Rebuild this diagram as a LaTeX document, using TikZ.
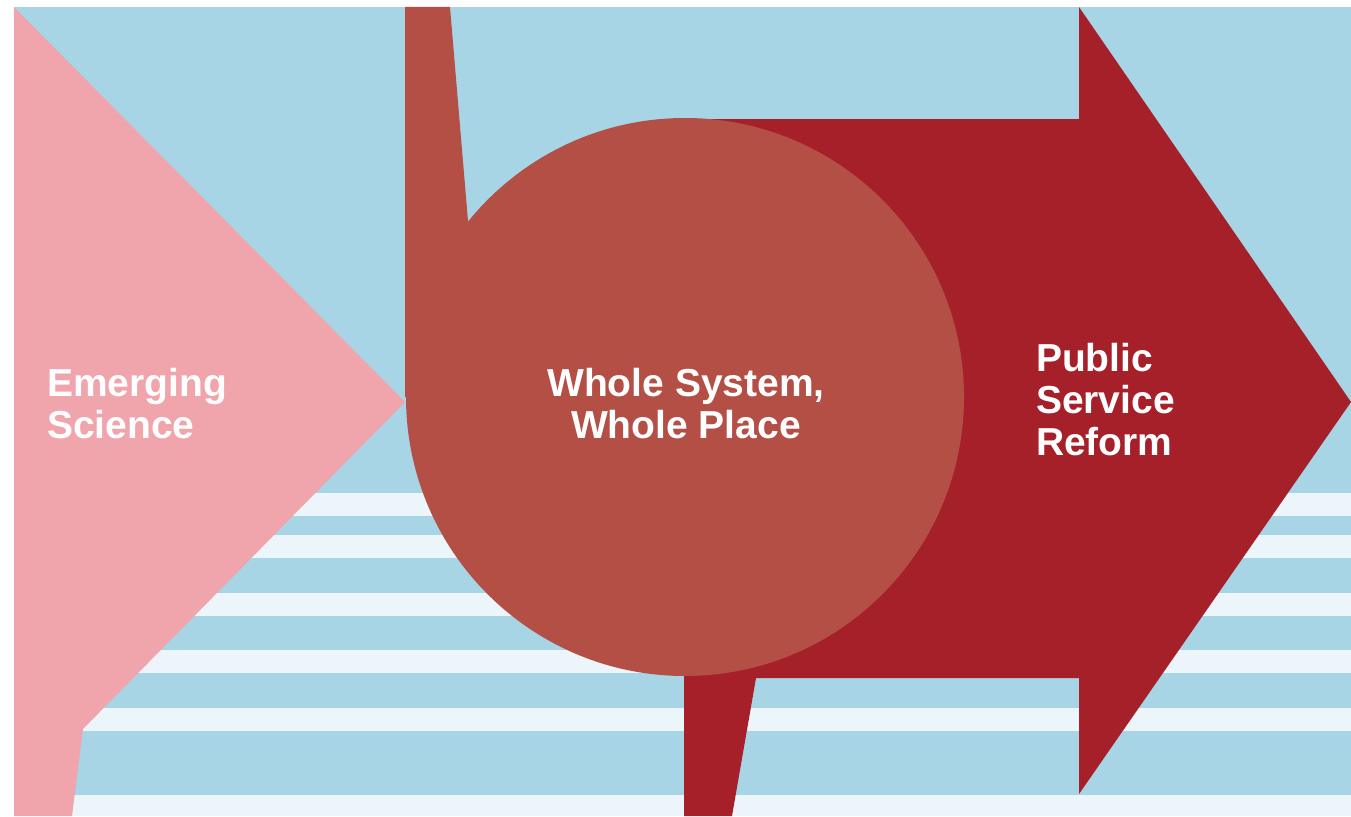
\documentclass[tikz,border=0pt]{standalone}
\definecolor{skyblue}{HTML}{A8D5E6}
\definecolor{stripe}{HTML}{EBF5FA}
\definecolor{rosepink}{HTML}{F0A4AC}
\definecolor{brick}{HTML}{B44F45}
\definecolor{crimson}{HTML}{A62029}
\usepackage{fontspec}
\setmainfont{Liberation Sans}
\usepackage{tikz}
\usetikzlibrary{positioning,calc}
\tikzset{
  plabel/.style={text=white, font=\bfseries\fontsize{39}{42}\selectfont,
    inner sep=0pt, outer sep=0pt},
  band/.style={fill=stripe, draw=none}
}

\begin{document}
\begin{tikzpicture}[x=1pt,y=-1pt]
        \useasboundingbox (0,0) rectangle (1351,816);
        % background and stripes
        \fill[skyblue] (14,7) rectangle (1351,816);
        \foreach \y/\h in {493/23,535/23,593/23,650/23,708/23,795/21}
          \fill[band] (14,\y) rectangle (1351,\y+\h);
        % left chevron
        \fill[rosepink] (14,7) -- (405,402) -- (83,729) -- (72,816) -- (14,816) -- cycle;
        % right arrow with its tail
        \fill[crimson] (675,119) -- (1079,119) -- (1079,7) -- (1351,402) -- (1079,794)
          -- (1079,678) -- (756,678) -- (732,816) -- (684,816) -- (684,400) -- (675,400) -- cycle;
        % speech bubble
        \coordinate (hub) at (685,397);
        \fill[brick] (hub) circle[radius=279];
        \fill[brick] (405,7) -- (450,7) -- (468,221) -- (hub) -- (405,397) -- cycle;
        % labels
        \node[plabel,align=left,anchor=base west] (emerging) at (47,438) {Emerging\\Science};
        \node[plabel,align=center,anchor=base] (whole) at (686,438) {Whole System,\\Whole Place};
        \node[plabel,align=left,anchor=base west] (reform) at (1036,455) {Public\\Service\\Reform};
      \end{tikzpicture}
\end{document}
